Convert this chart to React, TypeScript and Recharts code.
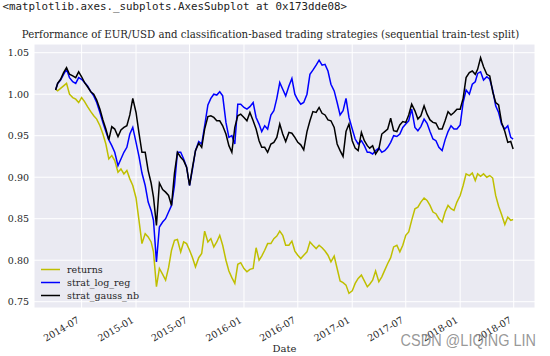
import { CartesianGrid, Legend, Line, LineChart, XAxis, YAxis } from 'recharts'

const dates = [
  '2014-04-04', '2014-04-11', '2014-04-21',
  '2014-05-01', '2014-05-11', '2014-05-21', '2014-06-01', '2014-06-11', '2014-06-21',
  '2014-07-01', '2014-07-11', '2014-07-21', '2014-08-01', '2014-08-11', '2014-08-21',
  '2014-09-01', '2014-09-11', '2014-09-21', '2014-10-01', '2014-10-11', '2014-10-21',
  '2014-11-01', '2014-11-11', '2014-11-21', '2014-12-01', '2014-12-11', '2014-12-21',
  '2015-01-01', '2015-01-11', '2015-01-21', '2015-02-01', '2015-02-11', '2015-02-21',
  '2015-03-01', '2015-03-11', '2015-03-21', '2015-04-01', '2015-04-11', '2015-04-21',
  '2015-05-01', '2015-05-11', '2015-05-21', '2015-06-01', '2015-06-11', '2015-06-21',
  '2015-07-01', '2015-07-11', '2015-07-21', '2015-08-01', '2015-08-11', '2015-08-21',
  '2015-09-01', '2015-09-11', '2015-09-21', '2015-10-01', '2015-10-11', '2015-10-21',
  '2015-11-01', '2015-11-11', '2015-11-21', '2015-12-01', '2015-12-11', '2015-12-21',
  '2016-01-01', '2016-01-11', '2016-01-21', '2016-02-01', '2016-02-11', '2016-02-21',
  '2016-03-01', '2016-03-11', '2016-03-21', '2016-04-01', '2016-04-11', '2016-04-21',
  '2016-05-01', '2016-05-11', '2016-05-21', '2016-06-01', '2016-06-11', '2016-06-21',
  '2016-07-01', '2016-07-11', '2016-07-21', '2016-08-01', '2016-08-11', '2016-08-21',
  '2016-09-01', '2016-09-11', '2016-09-21', '2016-10-01', '2016-10-11', '2016-10-21',
  '2016-11-01', '2016-11-11', '2016-11-21', '2016-12-01', '2016-12-11', '2016-12-21',
  '2017-01-01', '2017-01-11', '2017-01-21', '2017-02-01', '2017-02-11', '2017-02-21',
  '2017-03-01', '2017-03-11', '2017-03-21', '2017-04-01', '2017-04-11', '2017-04-21',
  '2017-05-01', '2017-05-11', '2017-05-21', '2017-06-01', '2017-06-11', '2017-06-21',
  '2017-07-01', '2017-07-11', '2017-07-21', '2017-08-01', '2017-08-11', '2017-08-21',
  '2017-09-01', '2017-09-11', '2017-09-21', '2017-10-01', '2017-10-11', '2017-10-21',
  '2017-11-01', '2017-11-11', '2017-11-21', '2017-12-01', '2017-12-11', '2017-12-21',
  '2018-01-01', '2018-01-11', '2018-01-21', '2018-02-01', '2018-02-11', '2018-02-21',
  '2018-03-01', '2018-03-11', '2018-03-21', '2018-04-01', '2018-04-11', '2018-04-21',
  '2018-05-01', '2018-05-11', '2018-05-21', '2018-06-01', '2018-06-11', '2018-06-21',
  '2018-06-29',
]

// cumulative performance of EUR/USD (buy & hold)
const returns = [
  1.006, 1.004, 1.007,
  1.010, 1.013, 1.000, 0.996, 0.994, 0.990,
  0.996, 0.991, 0.985, 0.979, 0.974, 0.970,
  0.962, 0.952, 0.940, 0.922, 0.926, 0.920,
  0.906, 0.910, 0.904, 0.908, 0.898, 0.890,
  0.875, 0.848, 0.820, 0.832, 0.828, 0.822,
  0.810, 0.768, 0.790, 0.783, 0.776, 0.791,
  0.812, 0.824, 0.825, 0.810, 0.822, 0.820,
  0.812, 0.803, 0.792, 0.803, 0.808, 0.835,
  0.822, 0.826, 0.816, 0.822, 0.830, 0.818,
  0.800, 0.787, 0.779, 0.772, 0.795, 0.797,
  0.790, 0.786, 0.789, 0.790, 0.815, 0.800,
  0.805, 0.812, 0.820, 0.820, 0.826, 0.829,
  0.835, 0.830, 0.818, 0.818, 0.823, 0.811,
  0.806, 0.802, 0.806, 0.810, 0.822, 0.818,
  0.814, 0.818, 0.815, 0.811, 0.806, 0.798,
  0.805, 0.790, 0.775, 0.773, 0.770, 0.760,
  0.763, 0.772, 0.778, 0.782, 0.775, 0.768,
  0.771, 0.776, 0.787, 0.774, 0.780, 0.788,
  0.796, 0.803, 0.816, 0.818, 0.810, 0.818,
  0.830, 0.834, 0.848, 0.862, 0.864, 0.870,
  0.875, 0.872, 0.866, 0.858, 0.856, 0.850,
  0.846, 0.858, 0.866, 0.862, 0.860, 0.870,
  0.878, 0.890, 0.904, 0.902, 0.905, 0.896,
  0.904, 0.901, 0.904, 0.900, 0.902, 0.899,
  0.878, 0.865, 0.855, 0.843, 0.852, 0.848,
  0.849,
]

const stratLogReg = [
  1.005, 1.013, 1.017,
  1.024, 1.030, 1.020, 1.015, 1.013, 1.020,
  1.018, 1.014, 1.010, 1.003, 0.998, 0.990,
  0.978, 0.966, 0.955, 0.945, 0.938, 0.930,
  0.914, 0.922, 0.930, 0.936, 0.952, 0.960,
  0.942, 0.925, 0.905, 0.890, 0.870, 0.860,
  0.848, 0.798, 0.840, 0.846, 0.850, 0.858,
  0.866, 0.890, 0.930, 0.930, 0.922, 0.912,
  0.890, 0.910, 0.932, 0.943, 0.940, 0.962,
  0.987, 0.995, 1.000, 0.999, 1.003, 0.998,
  0.966, 0.948, 0.950, 0.940, 0.988, 0.988,
  0.984, 0.982, 0.985, 0.990, 0.972, 0.964,
  0.955, 0.962, 0.958, 0.975, 0.980, 0.995,
  1.014, 1.006, 0.998, 1.010, 1.019, 1.000,
  0.993, 0.988, 0.990, 1.000, 1.024, 1.029,
  1.035, 1.041, 1.035, 1.036, 1.028, 1.012,
  1.004, 0.990, 0.975, 0.980, 0.995, 0.972,
  0.958, 0.946, 0.940, 0.944, 0.938, 0.930,
  0.930, 0.928, 0.932, 0.935, 0.930, 0.932,
  0.936, 0.942, 0.950, 0.949, 0.952, 0.960,
  0.964, 0.968, 0.982, 0.960, 0.956, 0.961,
  0.970, 0.965, 0.955, 0.946, 0.944, 0.936,
  0.932, 0.945, 0.955, 0.962, 0.958, 0.958,
  0.963, 0.990, 1.005, 1.000, 1.012, 1.015,
  1.025, 1.027, 1.017, 1.021, 1.018, 1.005,
  0.986, 0.978, 0.964, 0.958, 0.962, 0.948,
  0.946,
]

const stratGaussNb = [
  1.005, 1.013, 1.018,
  1.026, 1.032, 1.024, 1.022, 1.020, 1.027,
  1.021, 1.014, 1.009, 1.003, 1.000, 0.993,
  0.982, 0.969, 0.958, 0.945, 0.961, 0.958,
  0.949, 0.957, 0.960, 0.962, 0.975, 0.995,
  0.978, 0.953, 0.930, 0.930, 0.908, 0.893,
  0.876, 0.842, 0.893, 0.885, 0.882, 0.878,
  0.866, 0.905, 0.930, 0.924, 0.920, 0.912,
  0.890, 0.912, 0.932, 0.941, 0.936, 0.958,
  0.973, 0.974, 0.972, 0.968, 0.968, 0.962,
  0.952, 0.938, 0.930, 0.960, 0.974, 0.976,
  0.972, 0.968, 0.978, 0.968, 0.958, 0.944,
  0.936, 0.936, 0.930, 0.940, 0.942, 0.948,
  0.964, 0.952, 0.943, 0.954, 0.953, 0.948,
  0.942, 0.939, 0.933, 0.955, 0.968, 0.979,
  0.978, 0.984, 0.977, 0.975, 0.969, 0.968,
  0.960, 0.940, 0.932, 0.925, 0.955, 0.964,
  0.944, 0.935, 0.932, 0.954, 0.944, 0.938,
  0.935, 0.938, 0.928, 0.934, 0.952, 0.955,
  0.958, 0.971, 0.956, 0.955, 0.963, 0.967,
  0.966, 0.975, 0.988, 0.980, 0.970, 0.974,
  0.986, 0.976, 0.969, 0.966, 0.965, 0.958,
  0.958, 0.968, 0.979, 0.975, 0.978, 0.982,
  0.982, 0.995, 1.020, 1.026, 1.028, 1.024,
  1.030, 1.044, 1.033, 1.024, 1.022, 1.003,
  0.990, 0.987, 0.966, 0.955, 0.942, 0.943,
  0.934,
]

const xTickDates = [
  '2014-07-01', '2015-01-01', '2015-07-01', '2016-01-01', '2016-07-01',
  '2017-01-01', '2017-07-01', '2018-01-01', '2018-07-01',
]
const yTicks = [0.75, 0.8, 0.85, 0.9, 0.95, 1.0, 1.05]

const data = dates.map((d, i) => ({
  t: Date.parse(d),
  returns: returns[i],
  strat_log_reg: stratLogReg[i],
  strat_gauss_nb: stratGaussNb[i],
}))

const SERIF = '"DejaVu Serif", serif'
const TEXT = '#262626'

const series = [
  { key: 'returns', color: '#bfbf00' },
  { key: 'strat_log_reg', color: '#0000ff' },
  { key: 'strat_gauss_nb', color: '#000000' },
]

function DateTick({ x, y, payload }: { x: number; y: number; payload: { value: number } }) {
  const label = new Date(payload.value).toISOString().slice(0, 7)
  return (
    <text
      transform={`translate(${x - 1.5},${y + 14}) rotate(-30)`}
      textAnchor="end"
      fontFamily={SERIF}
      fontSize={9.5}
      fill={TEXT}
    >
      {label}
    </text>
  )
}

function LegendBox() {
  return (
    <div style={{ fontFamily: SERIF, fontSize: 9.5, color: TEXT, lineHeight: '13px' }}>
      {series.map((s) => (
        <div key={s.key} style={{ display: 'flex', alignItems: 'center', height: 13 }}>
          <svg width={26} height={13} style={{ display: 'block' }}>
            <line x1={0} x2={19} y1={6.5} y2={6.5} stroke={s.color} strokeWidth={1.5} />
          </svg>
          <span>{s.key}</span>
        </div>
      ))}
    </div>
  )
}

export default function App() {
  return (
    <div style={{ position: 'absolute', left: 0, top: 0, width: 550, height: 356, background: '#fff' }}>
      <LineChart
        width={550}
        height={356}
        data={data}
        margin={{ top: 44, right: 15, bottom: 0, left: 0 }}
      >
        <CartesianGrid fill="#eaeaf2" stroke="#ffffff" strokeWidth={1} />
        <XAxis
          dataKey="t"
          type="number"
          scale="time"
          domain={[Date.parse('2014-01-21'), Date.parse('2018-09-11')]}
          ticks={xTickDates.map((d) => Date.parse(d))}
          interval={0}
          tick={DateTick as any}
          tickLine={false}
          axisLine={false}
          tickSize={0}
          tickMargin={0}
          height={48}
          allowDataOverflow
        />
        <YAxis
          type="number"
          domain={[0.7424, 1.0605]}
          ticks={yTicks}
          interval={0}
          tickFormatter={(v: number) => v.toFixed(2)}
          tick={{ fill: TEXT, fontSize: 9.5, fontFamily: SERIF }}
          tickLine={false}
          axisLine={false}
          tickSize={0}
          tickMargin={5}
          width={34}
          allowDataOverflow
        />
        <Legend
          layout="horizontal"
          verticalAlign="middle"
          align="center"
          content={<LegendBox />}
          wrapperStyle={{ left: 41, top: 263, width: 120, height: 39 }}
        />
        {series.map((s) => (
          <Line
            key={s.key}
            dataKey={s.key}
            stroke={s.color}
            strokeWidth={1.5}
            dot={false}
            activeDot={false}
            type="linear"
            isAnimationActive={false}
          />
        ))}
      </LineChart>
      <svg
        width={550}
        height={356}
        style={{ position: 'absolute', left: 0, top: 0, pointerEvents: 'none' }}
      >
        <text x={2.5} y={10} fontFamily='"DejaVu Sans Mono", monospace' fontSize={10.8} fill="#222">
          {'<matplotlib.axes._subplots.AxesSubplot at 0x173dde08>'}
        </text>
        <text x={270.5} y={38} textAnchor="middle" fontFamily={SERIF} fontSize={10.2} fill={TEXT}>
          Performance of EUR/USD and classification-based trading strategies (sequential train-test split)
        </text>
        <text x={284.5} y={352} textAnchor="middle" fontFamily={SERIF} fontSize={10} fill={TEXT}>
          Date
        </text>
        <text
          transform="translate(536,346) scale(1,1.2)"
          textAnchor="end"
          fontFamily='"Liberation Sans", Arial, sans-serif'
          fontSize={14.5}
          fill="#8c8c8c"
          fillOpacity={0.9}
        >
          CSDN @LIQING LIN
        </text>
      </svg>
    </div>
  )
}
